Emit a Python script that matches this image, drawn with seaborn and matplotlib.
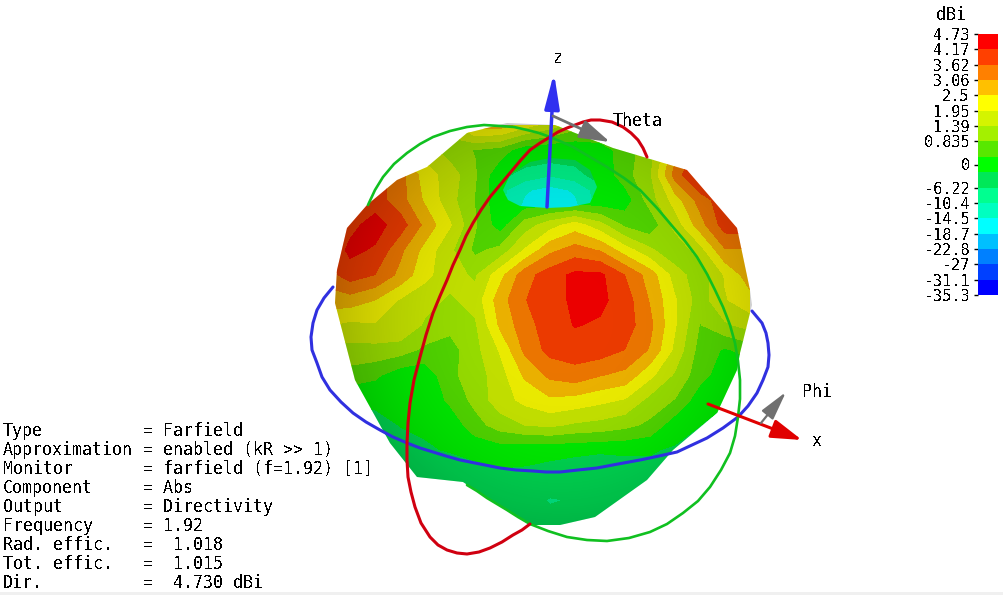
import numpy as np
import matplotlib
matplotlib.use('Agg')
import matplotlib.pyplot as plt
from matplotlib.patches import Polygon, Rectangle
import seaborn as sns

# colour scale, top to bottom
tick_labels = ['4.73', '4.17', '3.62', '3.06', '2.5', '1.95', '1.39', '0.835', '0',
               '-6.22', '-10.4', '-14.5', '-18.7', '-22.8', '-27', '-31.1', '-35.3']
tick_values = [4.73, 4.17, 3.62, 3.06, 2.5, 1.95, 1.39, 0.835, 0,
               -6.22, -10.4, -14.5, -18.7, -22.8, -27, -31.1, -35.3]
tick_bands = [0, 1, 2, 3, 4, 5, 6, 7, 8.5, 10, 11, 12, 13, 14, 15, 16, 17]
band_colors = ['#ff0000', '#ff4000', '#ff8000', '#ffc000', '#ffff00', '#d4f400', '#a4f000',
               '#58e800', '#00ff00', '#00e858', '#00ff90', '#00ffc0', '#00ffff',
               '#00c0ff', '#0080ff', '#0040ff', '#0000ff']

# directivity in dBi, per screen column and row
grid_x = [325, 350, 375, 400, 425, 450, 475, 500, 525, 550, 575, 600, 625, 650, 675, 700, 725, 750]
grid_y = [125, 150, 175, 200, 225, 250, 275, 300, 325, 350, 375, 400, 425, 450, 475, 500, 525]
directivity = [
    [1.7, 1.7, 1.7, 1.7, 1.7, 1.7, 2.8, 2.8, 2.2, 1.7, 1.1, 1.1, 1.1, 1.1, 1.1, 1.1, 1.1, 1.1],
    [2.8, 2.8, 2.8, 2.2, 1.7, 1.1, 0.8, 0.6, -0.8, -1.5, -1.5, -0.5, 0.6, 1.1, 2.8, 3.9, 3.9, 3.9],
    [3.9, 3.9, 3.9, 3.3, 2.2, 1.7, 0.9, -1.5, -3, -3, -3, -1.5, 0.6, 1.3, 3.3, 4.4, 4.4, 4.4],
    [4.2, 4.2, 3.9, 3.3, 2.4, 1.6, 0.8, -1.5, -1.5, -1.5, -1.5, -1.5, -0.5, 1.1, 2.2, 3.3, 4.0, 4.2],
    [3.6, 4.0, 4.4, 3.9, 2.9, 2.0, 0.9, -0.3, 1.1, 1.7, 2.2, 1.6, 0.7, 0.4, 1.6, 2.8, 3.9, 4.0],
    [3.6, 4.3, 4.1, 3.2, 2.3, 1.5, 0.7, 1.0, 2.0, 2.9, 3.3, 3.0, 2.2, 1.5, 0.9, 1.7, 3.0, 3.0],
    [3.3, 3.9, 3.6, 2.9, 2.1, 1.6, 1.3, 2.3, 3.4, 3.9, 4.3, 4.3, 3.6, 2.8, 1.7, 1.0, 2.0, 2.8],
    [2.8, 2.8, 2.5, 1.9, 1.6, 1.3, 1.6, 2.8, 3.6, 3.9, 4.3, 4.3, 3.9, 3.0, 2.0, 1.1, 1.9, 2.3],
    [2.0, 1.8, 1.9, 1.9, 1.3, 1.0, 1.3, 2.6, 3.4, 3.9, 4.2, 4.1, 3.9, 3.2, 2.0, 0.8, 1.3, 1.6],
    [1.2, 1.2, 1.2, 1.1, 0.7, 0.6, 1.2, 2.0, 3.2, 3.8, 3.9, 3.9, 3.6, 3.0, 1.8, 0.6, 0.2, 0.5],
    [0.6, 0.6, 0.4, -0.5, -0.8, 0.7, 1.1, 1.7, 2.6, 3.2, 3.4, 3.1, 2.9, 2.1, 1.3, 0.5, -0.5, -1],
    [-1.5, -1.5, -1.5, -1.5, -1.5, 0.4, 1.0, 1.7, 2.1, 2.4, 2.3, 2.1, 1.9, 1.2, 0.8, -0.5, -1.5, -2],
    [-3, -3, -3, -2, -1.5, -0.8, 0.6, 1.1, 1.4, 1.5, 1.3, 1.2, 1.0, 0.7, -0.5, -2, -4, -4],
    [-3, -3, -3, -3, -2.5, -1.8, -1, -0.2, -0.8, -1, -1.2, -1.5, -1.5, -1.8, -2.5, -4, -4, -4],
    [-4.5, -4.5, -4.5, -4.5, -4.5, -4.5, -3.5, -2.8, -2.8, -3.5, -4.5, -5.5, -4, -3, -3, -3, -3, -3],
    [-4.5, -4.5, -4.5, -4.5, -4.5, -4.5, -4.5, -4.5, -5, -6.5, -6, -4.5, -3.5, -3.5, -3.5, -3.5, -3.5, -3.5],
    [-5, -5, -5, -5, -5, -5, -5, -5, -5, -5, -5, -5, -5, -5, -5, -5, -5, -5],
]
outline_x = [507, 555, 613, 687, 737, 750, 752, 740, 737, 717, 673, 647, 595, 560, 530, 487, 463, 417,
             390, 355, 335, 337, 347, 367, 397, 427, 467]
outline_y = [123, 125, 148, 170, 228, 290, 305, 353, 370, 413, 450, 480, 517, 525, 525, 498, 482, 477,
             443, 380, 303, 270, 228, 205, 180, 167, 133]

# the dip around +z is seen as a separate lip
hole_grid_x = [500, 525, 550, 575, 600]
hole_grid_y = [155, 175, 190, 210]
hole_directivity = [
    [-3, -3.5, -4, -4, -3],
    [-5, -8, -10, -8, -4],
    [-9, -14, -16, -14, -8],
    [-10, -16, -18, -16, -9],
]
hole_x = [503, 510, 530, 550, 575, 590, 597, 590, 570, 547, 520, 508]
hole_y = [190, 175, 162, 158, 160, 170, 187, 203, 207, 208, 206, 200]

# visible parts of the three great circles
blue_ring = [(333, 287), (324, 298), (317, 310), (313, 323), (311, 337), (312, 350), (317, 363), (322, 377),
             (330, 390), (341, 402), (353, 413), (366, 422), (380, 430), (393, 437), (407, 443), (420, 448),
             (433, 452), (446, 456), (460, 460), (480, 464), (500, 468), (516, 470), (533, 471), (546, 472),
             (560, 472), (578, 470), (597, 468), (618, 464), (640, 460), (659, 456), (677, 452), (692, 445),
             (707, 438), (723, 428), (738, 417), (748, 406), (757, 393), (763, 380), (768, 367), (769, 355),
             (768, 343), (766, 333), (762, 323), (757, 317), (752, 311)]
red_ring = [(647, 157), (643, 148), (638, 140), (631, 133), (623, 127), (612, 122), (600, 120), (591, 120),
            (583, 122), (575, 125), (567, 128), (558, 132), (550, 137), (540, 143), (530, 150), (520, 161),
            (510, 173), (500, 185), (490, 197), (481, 210), (473, 223), (466, 236), (460, 250), (453, 265),
            (447, 280), (440, 296), (433, 313), (426, 335), (420, 357), (414, 380), (410, 403), (408, 423),
            (407, 443), (407, 460), (408, 477), (411, 492), (415, 507), (421, 523), (430, 537), (438, 545),
            (447, 550), (457, 553), (467, 554), (479, 552), (490, 548), (502, 542), (513, 535), (522, 530),
            (530, 524)]
green_ring = [(368, 205), (375, 190), (383, 177), (394, 164), (407, 153), (420, 144), (433, 137), (450, 131),
              (467, 127), (484, 125), (500, 126), (514, 127), (527, 130), (539, 133), (550, 137), (562, 142),
              (573, 147), (590, 157), (607, 167), (624, 178), (640, 190), (657, 208), (673, 227), (685, 241),
              (697, 257), (707, 274), (715, 290), (723, 307), (730, 325), (735, 343), (738, 361), (740, 380),
              (740, 399), (738, 417), (735, 436), (730, 453), (721, 470), (710, 487), (698, 501), (683, 513),
              (667, 524), (650, 532), (629, 538), (607, 541), (587, 540), (567, 537), (548, 531), (530, 524),
              (518, 517), (507, 510), (497, 504), (487, 498), (477, 491), (467, 485)]

info_names = ['Type', 'Approximation', 'Monitor', 'Component', 'Output', 'Frequency',
              'Rad. effic.', 'Tot. effic.', 'Dir.']
info_values = ['= Farfield', '= enabled (kR >> 1)', '= farfield (f=1.92) [1]', '= Abs', '= Directivity',
               '= 1.92', '=  1.018', '=  1.015', '=  4.730 dBi']


def to_band(values):
    # position on the colour bar, 0 at the bottom
    return 17 - np.interp(values, tick_values[::-1], tick_bands[::-1])


sns.set_theme(style='white')
plt.rcParams['font.family'] = ['DejaVu Sans Mono']
plt.rcParams['text.antialiased'] = False

W, H = 1004, 595
fig = plt.figure(figsize=(W / 100, H / 100), dpi=100)
ax = fig.add_axes([0, 0, 1, 1])
ax.set_xlim(0, W)
ax.set_ylim(H, 0)
ax.axis('off')

# surface
outline = Polygon(np.column_stack([outline_x, outline_y]), closed=True, transform=ax.transData,
                  facecolor='none', edgecolor='none')
ax.add_patch(outline)
surface_levels = np.arange(18)
surface_colors = band_colors[::-1]
body = ax.contourf(grid_x, grid_y, to_band(np.array(directivity)), levels=surface_levels,
                   colors=surface_colors, zorder=2)
body.set_clip_path(outline)

hole = Polygon(np.column_stack([hole_x, hole_y]), closed=True, transform=ax.transData,
               facecolor='none', edgecolor='none')
ax.add_patch(hole)
dip = ax.contourf(hole_grid_x, hole_grid_y, to_band(np.array(hole_directivity)), levels=surface_levels,
                  colors=surface_colors, zorder=3)
dip.set_clip_path(hole)

# lighting: the surface gets darker towards its rim
xx, yy = np.meshgrid(np.arange(320, 765), np.arange(115, 535))
dist = np.hypot(xx - 560, yy - 320) / 215
shade = np.zeros(xx.shape + (4,))
shade[..., 3] = np.clip(0.08 + 0.16 * dist ** 3, 0, 0.28)
light = ax.imshow(shade, extent=(320, 765, 535, 115), zorder=4, aspect='auto')
light.set_clip_path(outline)
ax.set_xlim(0, W)
ax.set_ylim(H, 0)

# rings
for ring, color, width, order in [(blue_ring, '#3030e0', 2.2, 6), (green_ring, '#10c020', 1.9, 6),
                                  (red_ring, '#d00010', 2.2, 7)]:
    ring_x, ring_y = zip(*ring)
    sns.lineplot(x=list(ring_x), y=list(ring_y), sort=False, estimator=None, color=color,
                 linewidth=width, ax=ax, zorder=order)

# axes and angle arrows
arrows = [((547, 207), (554, 73), '#3030f0', 2.5, 0.95, 0.2),
          ((708, 404), (802, 440), '#e00000', 2.2, 0.85, 0.26),
          ((761, 423), (786, 392), '#707070', 1.6, 0.8, 0.2),
          ((553, 116), (610, 142), '#707070', 2.0, 0.85, 0.26)]
for tail, tip, color, width, head_l, head_w in arrows:
    ax.annotate('', xy=tip, xytext=tail, zorder=8,
                arrowprops=dict(arrowstyle=f'-|>,head_length={head_l},head_width={head_w}', color=color,
                                linewidth=width, mutation_scale=22, shrinkA=0, shrinkB=0))

for label, lx, ly in [('z', 558, 58), ('Theta', 638, 121), ('Phi', 817, 392), ('x', 817, 441)]:
    ax.text(lx, ly, label, ha='center', va='center', fontsize=12, color='black', zorder=9)

# parameter table
for i in range(len(info_names)):
    row_y = 431 + 19 * i
    ax.text(3, row_y, info_names[i], ha='left', va='center', fontsize=12, color='black')
    ax.text(143, row_y, info_values[i], ha='left', va='center', fontsize=12, color='black')

# bottom window edge
ax.add_patch(Rectangle((0, 592), W, 3, facecolor='#f0f0f0', edgecolor='none'))

# colour bar
cax = fig.add_axes([978 / W, 1 - 295 / H, 20 / W, 261 / H])
band_table = np.arange(17).reshape(-1, 1)
sns.heatmap(band_table, cmap=matplotlib.colors.ListedColormap(band_colors), cbar=False,
            xticklabels=False, yticklabels=False, ax=cax)
cax.set_yticks(tick_bands)
cax.set_yticklabels(tick_labels, fontsize=11, rotation=0, color='black')
cax.tick_params(axis='y', length=3, width=1, color='black', pad=3, left=True, labelleft=True)
ax.text(951, 15, 'dBi', ha='center', va='center', fontsize=12, color='black')

fig.savefig('out.png', dpi=100)
